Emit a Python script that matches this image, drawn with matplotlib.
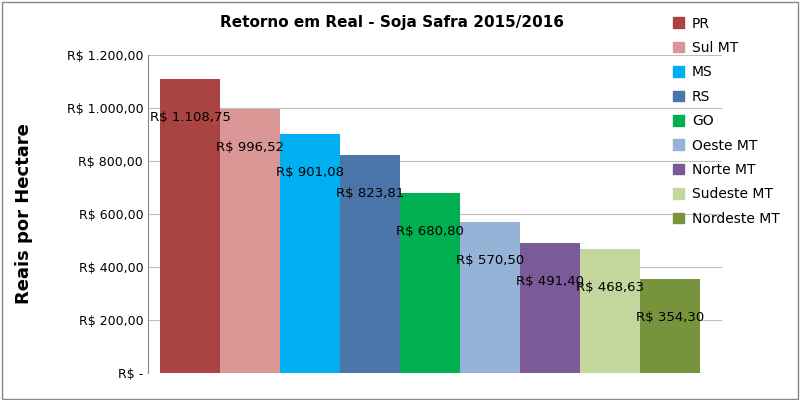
import matplotlib
matplotlib.use("Agg")
import matplotlib.pyplot as plt
from matplotlib.patches import Patch

regions = ["PR", "Sul MT", "MS", "RS", "GO", "Oeste MT", "Norte MT", "Sudeste MT", "Nordeste MT"]
values = [1108.75, 996.52, 901.08, 823.81, 680.80, 570.50, 491.40, 468.63, 354.30]
labels = ["R$ 1.108,75", "R$ 996,52", "R$ 901,08", "R$ 823,81", "R$ 680,80",
          "R$ 570,50", "R$ 491,40", "R$ 468,63", "R$ 354,30"]
colors = ["#a94442", "#d99694", "#00b0f0", "#4a75a8", "#00b050",
          "#95b3d7", "#7a5a98", "#c3d69b", "#77933c"]
yticks = [0, 200, 400, 600, 800, 1000, 1200]
ytick_labels = ["R$ -", "R$ 200,00", "R$ 400,00", "R$ 600,00", "R$ 800,00",
                "R$ 1.000,00", "R$ 1.200,00"]

fig = plt.figure(figsize=(8, 4), dpi=100)
ax = fig.add_axes([0.185, 0.0675, 0.7175, 0.795])
x = list(range(len(values)))
ax.bar(x, values, width=1.0, color=colors, zorder=2)
for i, (v, lab) in enumerate(zip(values, labels)):
    ax.text(i, v - 145, lab, ha="center", va="center", fontsize=9.5, zorder=3)

ax.set_xlim(-0.7, 8.87)
ax.set_ylim(0, 1200)
ax.set_yticks(yticks)
ax.set_yticklabels(ytick_labels, fontsize=9)
ax.set_xticks([])
ax.grid(axis="y", color="#bfbfbf", lw=0.8, zorder=0)
for s in ["top", "right", "bottom"]:
    ax.spines[s].set_visible(False)
ax.spines["left"].set_color("#888888")
ax.tick_params(axis="y", length=0)
ax.set_ylabel("Reais por Hectare", fontsize=13, fontweight="bold")
ax.yaxis.set_label_coords(-0.2, 0.5)

fig.text(0.49, 0.945, "Retorno em Real - Soja Safra 2015/2016",
         ha="center", va="center", fontsize=11, fontweight="bold")

handles = [Patch(color=c) for c in colors]
fig.legend(handles, regions, loc="upper left", bbox_to_anchor=(0.825, 0.99),
           frameon=False, fontsize=10, handlelength=0.8, handleheight=0.8,
           labelspacing=0.75, handletextpad=0.6)

fig.patches.append(plt.Rectangle((0.002, 0.003), 0.995, 0.993, transform=fig.transFigure,
                                 fill=False, edgecolor="#888888", lw=1))
fig.savefig("out.png", dpi=100)
